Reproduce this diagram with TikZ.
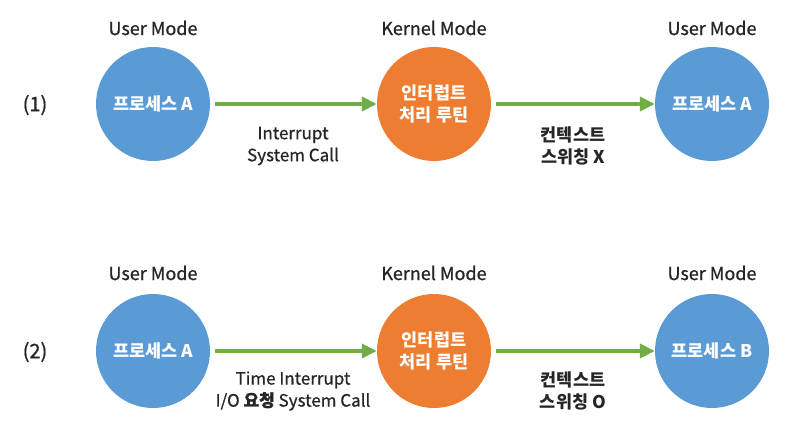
\documentclass[tikz,border=0pt]{standalone}
\usepackage{fontspec}
\setmainfont{Noto Sans CJK KR}
\newfontfamily\semifont[FakeBold=0.8]{Noto Sans CJK KR}
\usetikzlibrary{positioning,arrows.meta}
\definecolor{usermode}{HTML}{5B9BD5}
\definecolor{kernmode}{HTML}{ED7D31}
\definecolor{switch}{HTML}{70AD47}
\definecolor{ink}{HTML}{262626}

\begin{document}
\begin{tikzpicture}[
  x=1pt, y=-1pt,
  proc/.style={circle, minimum size=114pt, inner sep=0pt, align=center,
               text=white, font=\fontsize{17.5}{22}\selectfont\bfseries},
  mode/.style={font=\fontsize{18}{20}\semifont, text=ink},
  lbl/.style={font=\fontsize{17}{22}\semifont, text=ink, align=center},
  arr/.style={-{Triangle[length=15pt, width=14pt]}, line width=4pt, switch,
              shorten <=5pt}
]
  \useasboundingbox (0,0) rectangle (806,439);

  % (1) Interrupt / System Call
  \node[font=\fontsize{20}{22}\semifont, text=ink] (num1) at (35,105) {(1)};
  \node[proc, fill=usermode] (procA) at (153,104) {프로세스 A};
  \node[proc, fill=kernmode] (isr) at (434,104) {인터럽트\\처리 루틴};
  \node[proc, fill=usermode] (procA2) at (712,104) {프로세스 A};

  \node[mode] (um1) at (153,28) {User Mode};
  \node[mode] (km1) at (434,28) {Kernel Mode};
  \node[mode] (um2) at (712,28) {User Mode};

  \draw[arr] (procA) -- (isr);
  \draw[arr] (isr) -- (procA2);

  \node[lbl] (why1) at (293,146) {Interrupt\\System Call};
  \node[lbl, font=\fontsize{17.5}{22}\selectfont\bfseries] (ctx1) at (573,146) {컨텍스트\\스위칭 X};

  % (2) Time Interrupt / I/O
  \node[font=\fontsize{20}{22}\semifont, text=ink] (num2) at (35,352) {(2)};
  \node[proc, fill=usermode] (procB1) at (153,351) {프로세스 A};
  \node[proc, fill=kernmode] (isr2) at (434,351) {인터럽트\\처리 루틴};
  \node[proc, fill=usermode] (procB) at (712,351) {프로세스 B};

  \node[mode] (um3) at (153,273) {User Mode};
  \node[mode] (km2) at (434,273) {Kernel Mode};
  \node[mode] (um4) at (712,273) {User Mode};

  \draw[arr] (procB1) -- (isr2);
  \draw[arr] (isr2) -- (procB);

  \node[lbl] (why2) at (293,391) {Time Interrupt\\I/O \textbf{요청} System Call};
  \node[lbl, font=\fontsize{17.5}{22}\selectfont\bfseries] (ctx2) at (573,391) {컨텍스트\\스위칭 O};
\end{tikzpicture}
\end{document}
